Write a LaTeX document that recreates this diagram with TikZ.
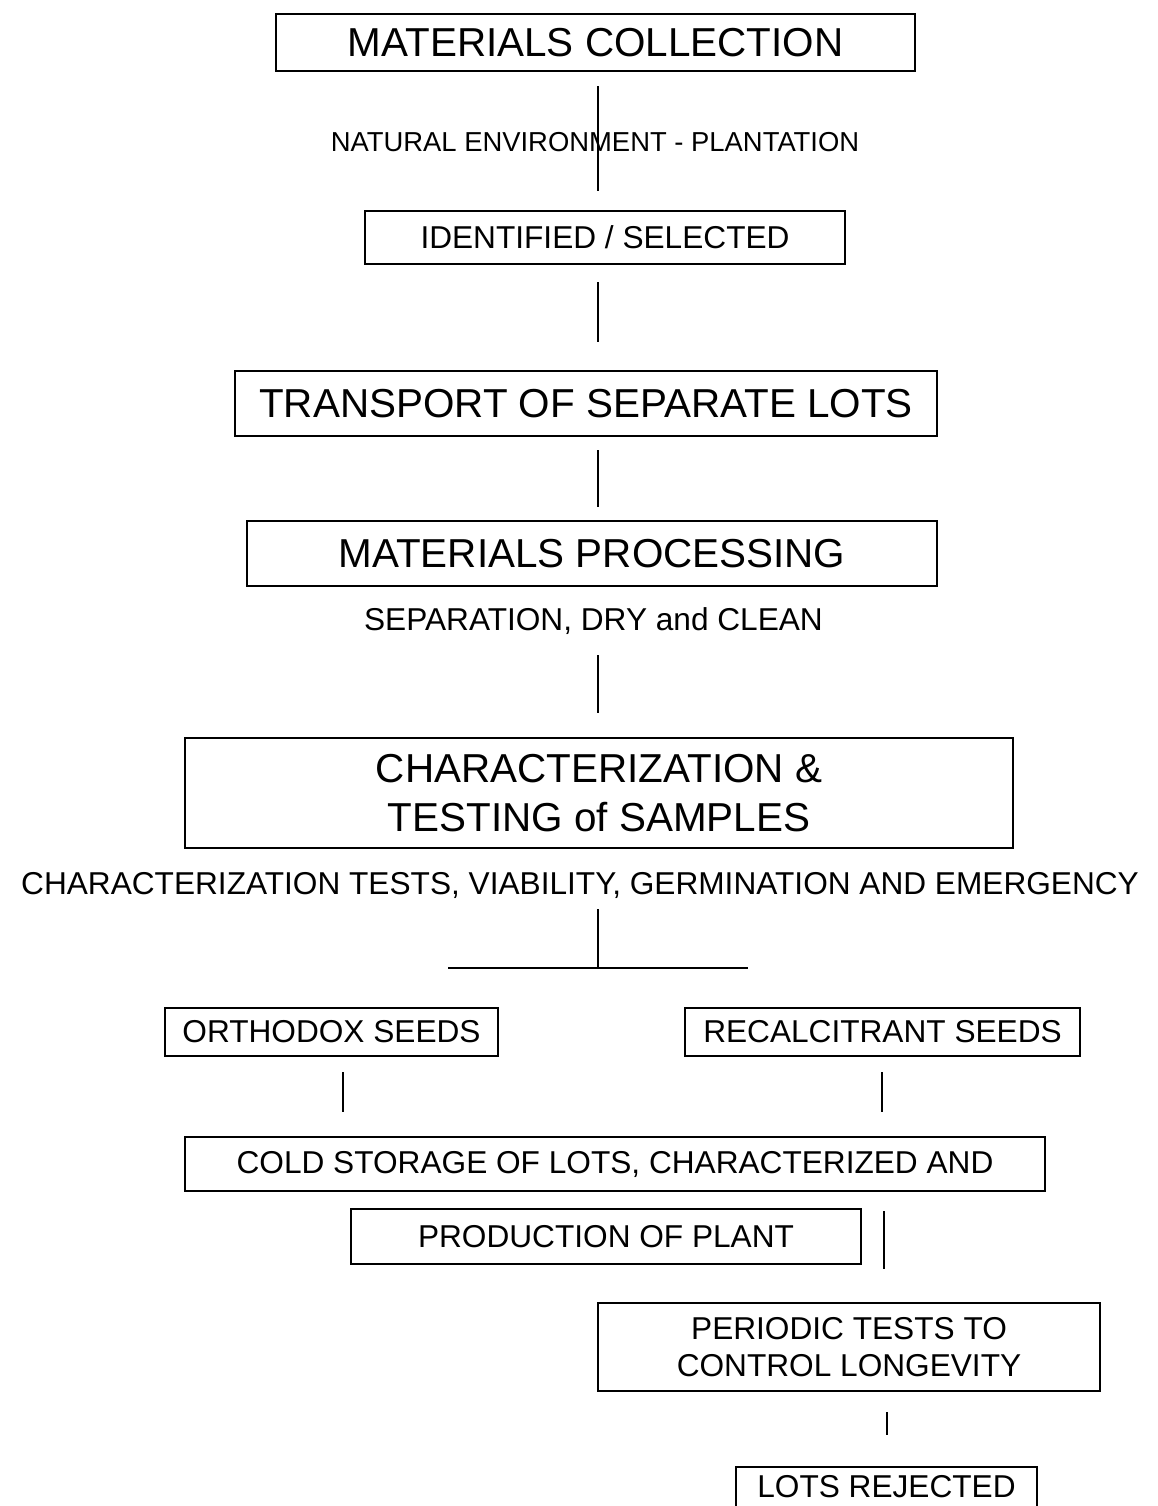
\documentclass[tikz,border=0pt]{standalone}
\usepackage{fontspec}
\setmainfont{Liberation Sans}

\begin{document}
\begin{tikzpicture}[x=0.02cm, y=-0.02cm,
  box/.style={draw, line width=1.2pt, inner sep=0pt, align=center},
  link/.style={line width=1pt},
  big/.style={font=\fontsize{23}{27.8}\selectfont},
  mid/.style={font=\fontsize{18}{21}\selectfont},
  small/.style={font=\fontsize{15.6}{18}\selectfont}]
  \useasboundingbox (0,0) rectangle (1158,1506);
  \clip (0,0) rectangle (1158,1506);

  % columns of the connectors
  \coordinate (spine) at (598,0);
  \coordinate (colL) at (343,0);
  \coordinate (colR) at (882,0);
  \coordinate (colS) at (884,0);
  \coordinate (colT) at (887,0);

  % main column
  \node[box, big, minimum width=12.78cm, minimum height=1.14cm] (coll) at (595.5,42.5) {MATERIALS COLLECTION};
  \node[small] (env) at (595,142) {NATURAL ENVIRONMENT - PLANTATION};
  \node[box, mid, minimum width=9.6cm, minimum height=1.06cm] (ident) at (605,237.5) {IDENTIFIED / SELECTED};
  \node[box, big, minimum width=14.04cm, minimum height=1.3cm] (trans) at (586,403.5) {TRANSPORT OF SEPARATE LOTS};
  \node[box, big, minimum width=13.8cm, minimum height=1.3cm] (proc) at (592,553.5) {MATERIALS PROCESSING};
  \node[mid] (sep) at (593.5,621) {SEPARATION, DRY and CLEAN};
  \node[box, big, minimum width=16.56cm, minimum height=2.2cm] (charac) at (599,793) {CHARACTERIZATION \&\\TESTING of SAMPLES};
  \node[mid] (tests) at (580,885) {CHARACTERIZATION TESTS, VIABILITY, GERMINATION AND EMERGENCY};

  % branches
  \coordinate (fork) at (598,968);
  \coordinate (forkL) at (448,968);
  \coordinate (forkR) at (748,968);
  \node[box, mid, minimum width=6.66cm, minimum height=0.96cm] (ortho) at (331.5,1032) {ORTHODOX SEEDS};
  \node[box, mid, minimum width=7.9cm, minimum height=0.96cm] (recal) at (882.5,1032) {RECALCITRANT SEEDS};
  \node[box, mid, minimum width=17.2cm, minimum height=1.08cm] (cold) at (615,1164) {COLD STORAGE OF LOTS, CHARACTERIZED AND};
  \node[box, mid, minimum width=10.2cm, minimum height=1.1cm] (plant) at (606,1236.5) {PRODUCTION OF PLANT};
  \node[box, mid, minimum width=10.04cm, minimum height=1.76cm] (period) at (849,1347) {PERIODIC TESTS TO\\CONTROL LONGEVITY};
  \node[box, mid, minimum width=6.02cm, anchor=base, inner ysep=4.7pt, text depth=1.5cm] (rej) at (886.5,1497) {LOTS REJECTED};

  % connectors
  \draw[link, shorten <=0.28cm, shorten >=0.38cm] (coll.south -| spine) -- (ident.north -| spine);
  \draw[link, shorten <=0.34cm, shorten >=0.56cm] (ident.south -| spine) -- (trans.north -| spine);
  \draw[link, shorten <=0.26cm, shorten >=0.26cm] (trans.south -| spine) -- (proc.north -| spine);
  \draw[link, shorten <=1.36cm, shorten >=0.48cm] (proc.south -| spine) -- (charac.north -| spine);
  \draw[link, shorten <=1.2cm] (charac.south -| spine) -- (fork);
  \draw[link] (forkL) -- (forkR);
  \draw[link, shorten <=0.3cm, shorten >=0.48cm] (ortho.south -| colL) -- (cold.north -| colL);
  \draw[link, shorten <=0.3cm, shorten >=0.48cm] (recal.south -| colR) -- (cold.north -| colR);
  \draw[link, shorten <=0.38cm, shorten >=0.66cm] (cold.south -| colS) -- (period.north -| colS);
  \draw[link, shorten <=0.4cm, shorten >=0.62cm] (period.south -| colT) -- (rej.north -| colT);
\end{tikzpicture}
\end{document}
